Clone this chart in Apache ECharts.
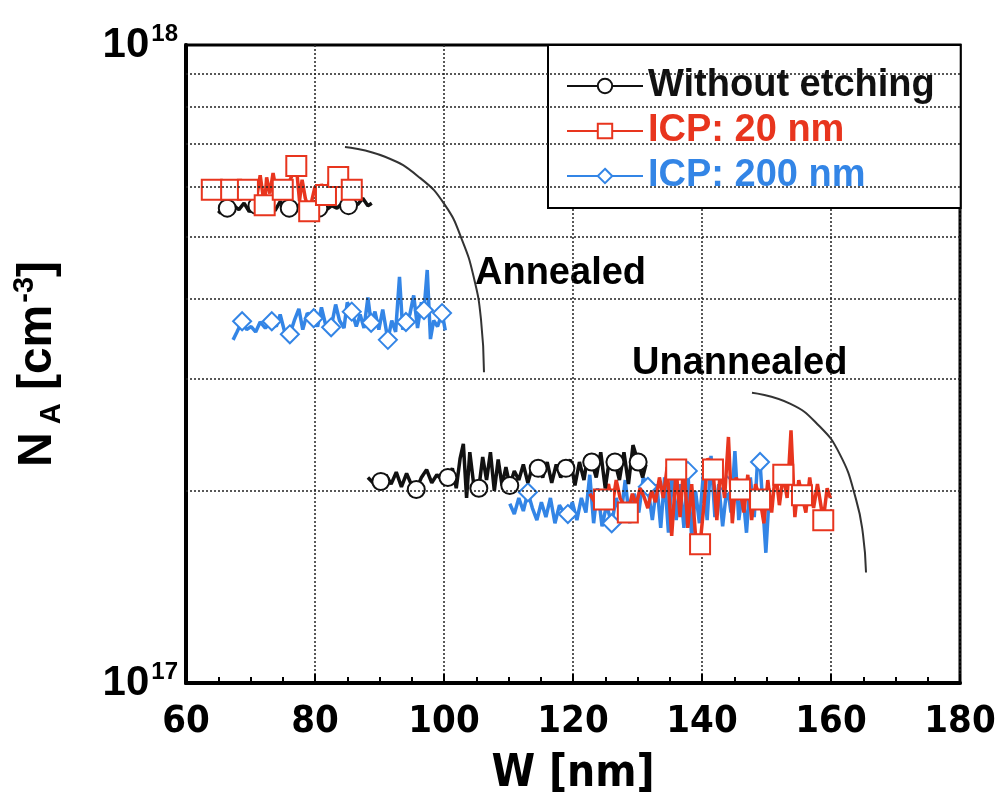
<!DOCTYPE html>
<html>
<head>
<meta charset="utf-8">
<script src="https://cdn.jsdelivr.net/npm/echarts@6/dist/echarts.min.js"></script>
<style>
  html, body { margin: 0; padding: 0; background: #fff; }
  #main { width: 996px; height: 794px; }
</style>
</head>
<body>
<div id="main"></div>
<script>
// values are [W in nm, N_A in units of 1e17 cm^-3]
var blackAnnealed = [[65.0,5.45],[65.8,5.55],[66.6,5.50],[67.4,5.60],[68.2,5.52],[69.0,5.65],[69.8,5.48],[70.6,5.58],[71.4,5.70],[72.2,5.55],[73.0,5.62],[73.8,5.50],[74.6,5.68],[75.4,5.58],[76.2,5.72],[77.0,5.55],[77.8,5.65],[78.6,5.50],[79.4,5.62],[80.2,5.56],[81.0,5.68],[81.8,5.52],[82.6,5.60],[83.4,5.55],[84.2,5.65],[85.0,5.58],[85.8,5.70],[86.6,5.62],[87.4,5.75],[88.2,5.60],[88.8,5.65]]
var blackAnnealedMarks = [[66.4,5.55],[71.0,5.6],[76.0,5.55],[80.6,5.55],[85.2,5.6]]
var blackUnannealed = [[88.2,2.10],[89.0,2.06],[91.0,2.12],[91.8,2.05],[92.6,2.14],[93.4,2.03],[94.2,2.13],[95.0,2.04],[96.5,2.10],[97.3,2.16],[98.1,2.06],[98.9,2.12],[99.7,2.08],[101.3,2.17],[101.9,2.02],[102.5,2.25],[103.0,2.37],[103.5,1.95],[104.0,2.30],[104.6,2.05],[106.0,2.26],[106.6,2.08],[107.2,2.30],[107.8,2.00],[108.4,2.24],[109.0,2.04],[109.6,2.18],[110.9,2.15],[111.6,2.08],[112.3,2.20],[113.0,2.06],[113.7,2.18],[115.3,2.10],[116.0,2.22],[116.7,2.06],[117.4,2.20],[118.1,2.10],[119.6,2.24],[120.3,2.04],[121.0,2.22],[121.7,2.08],[122.3,2.28],[123.6,2.10],[124.3,2.30],[125.0,2.02],[125.7,2.26],[127.2,2.08],[127.9,2.30],[128.6,2.05],[129.3,2.36],[130.8,2.10],[131.3,2.20]]
var blackUnannealedMarks = [[90.2,2.07],[95.7,2.01],[100.6,2.10],[105.4,2.02],[110.2,2.04],[114.6,2.17],[118.9,2.17],[122.9,2.22],[126.5,2.22],[130.1,2.22]]

var redAnnealed = [[63.2,5.9],[64.5,6.0],[65.5,5.85],[66.5,6.05],[67.5,5.9],[68.5,6.0],[69.5,5.95],[70.5,6.1],[71.0,5.8],[71.5,6.25],[72.0,5.75],[72.5,6.2],[73.0,5.85],[73.5,6.3],[74.0,5.9],[74.5,6.1],[75.5,5.95],[76.3,6.2],[77.6,5.7],[78.0,6.15],[78.5,5.75],[79.5,5.7],[80.0,6.0],[80.5,5.75],[81.0,6.05],[82.2,6.1],[83.0,5.9],[84.2,6.15],[85.0,5.95],[86.2,6.05],[86.8,5.95]]
var redAnnealedMarks = [[64.0,5.93],[67.0,5.93],[69.6,5.93],[72.2,5.61],[75.0,5.93],[77.1,6.46],[79.1,5.49],[81.7,5.82],[83.6,6.21],[85.7,5.93]]
var redUnannealed = [[122.6,1.98],[123.4,1.92],[125.5,2.05],[126.1,1.90],[126.7,2.08],[127.3,1.95],[129.2,1.98],[129.8,1.90],[130.4,2.02],[131.0,1.96],[131.6,1.88],[132.2,2.00],[132.8,1.92],[133.4,2.10],[134.0,1.95],[134.6,2.18],[135.3,1.70],[136.6,1.82],[137.2,2.22],[137.8,1.75],[138.4,2.05],[139.0,1.70],[140.3,1.90],[140.9,2.25],[142.3,1.80],[142.9,2.20],[143.5,1.95],[144.1,2.43],[144.7,1.78],[145.3,2.10],[146.5,1.85],[147.1,2.12],[147.7,1.80],[148.3,2.05],[149.6,1.78],[150.2,2.08],[150.8,1.85],[151.4,2.15],[152.0,1.90],[153.2,1.95],[153.8,2.49],[154.4,1.82],[155.0,2.08],[156.1,1.85],[156.7,2.10],[157.3,1.88],[157.9,2.05],[159.4,2.02],[159.9,1.95]]
var redUnannealedMarks = [[124.8,1.94],[128.5,1.85],[136.0,2.16],[139.7,1.65],[141.7,2.16],[145.9,2.01],[149.0,1.94],[152.6,2.12],[155.5,1.97],[158.8,1.80]]

var blueAnnealed = [[67.3,3.45],[67.9,3.55],[69.4,3.58],[70.1,3.62],[70.8,3.55],[71.5,3.68],[72.3,3.60],[74.0,3.62],[74.6,3.78],[75.3,3.55],[76.8,3.70],[77.5,3.86],[78.1,3.58],[78.8,3.80],[80.4,3.62],[81.0,3.88],[81.6,3.66],[83.2,3.92],[83.8,3.70],[84.5,3.60],[85.0,3.95],[86.4,3.62],[87.0,3.78],[87.6,3.60],[88.2,4.02],[89.3,3.82],[89.9,3.58],[90.5,3.85],[91.9,3.70],[92.5,3.55],[93.1,4.33],[93.6,3.58],[94.7,3.78],[95.3,4.05],[95.9,3.60],[96.5,3.95],[97.4,4.44],[97.9,3.46],[98.4,3.70],[99.0,3.62],[100.2,3.57]]
var blueAnnealedMarks = [[68.7,3.69],[73.3,3.69],[76.1,3.52],[79.8,3.73],[82.5,3.61],[85.7,3.82],[88.7,3.67],[91.3,3.45],[94.1,3.68],[96.9,3.84],[99.7,3.80]]
var blueUnannealed = [[110.2,1.91],[110.9,1.84],[111.6,1.95],[112.3,1.86],[113.7,1.88],[114.4,1.80],[115.1,1.92],[115.8,1.82],[116.5,1.95],[117.2,1.78],[117.9,1.90],[118.6,1.85],[119.9,1.92],[120.6,1.80],[121.3,1.95],[122.0,1.85],[122.6,2.12],[123.2,1.78],[123.8,2.02],[124.5,1.76],[125.2,1.90],[126.7,1.95],[127.4,1.82],[128.1,2.08],[128.8,1.78],[129.5,1.98],[130.2,1.85],[130.9,2.10],[132.3,1.80],[133.0,2.05],[133.6,1.75],[134.2,2.10],[134.8,1.72],[135.4,2.15],[136.0,1.80],[136.6,2.05],[137.2,1.75],[138.4,1.69],[139.0,2.00],[139.6,1.78],[140.2,2.12],[140.8,1.80],[141.4,2.27],[142.0,1.82],[142.6,2.05],[143.2,1.76],[144.5,1.85],[145.1,2.31],[145.7,1.80],[146.3,2.00],[146.9,1.72],[147.5,2.10],[148.1,1.82],[148.6,2.22],[149.5,1.85],[149.9,1.60],[150.4,1.95]]
var blueUnannealedMarks = [[113.0,1.99],[119.2,1.84],[126.0,1.78],[131.6,2.03],[137.8,2.15],[143.9,2.04],[149.0,2.22]]

// guide curves drawn next to the two groups
var annealedArc = [[84.65,6.92],[90.85,6.68],[96.28,6.19],[100.16,5.61],[102.79,4.95],[104.65,4.31],[105.74,3.71],[106.2,3.07]]
var unannealedArc = [[147.75,2.85],[153.64,2.74],[157.98,2.54],[161.4,2.28],[163.88,1.94],[164.96,1.71],[165.43,1.49]]

var gridLevels = [2, 3, 4, 5, 6, 7, 8, 9]
var names = ['Without etching', 'ICP: 20 nm', 'ICP: 200 nm']
var black = '#111111', red = '#e8351e', blue = '#3385e6'
var font = 'Liberation Sans'
var narrow = "'DejaVu Sans Condensed', 'Liberation Sans'"

function build(line, marks) {
    var pts = []
    line.forEach(function (p) { pts.push({ value: [p[0], p[1] * 1e17], symbol: 'none' }) })
    marks.forEach(function (p) { pts.push({ value: [p[0], p[1] * 1e17] }) })
    pts.sort(function (a, b) { return a.value[0] - b.value[0] })
    return pts
}
function scaled(arr) {
    return arr.map(function (p) { return [p[0], p[1] * 1e17] })
}

function dataSeries(name, color, symbol, size, bw, data, z) {
    return {
        name: name,
        type: 'line',
        data: data,
        z: z,
        symbol: symbol,
        symbolSize: size,
        showAllSymbol: true,
        lineStyle: { color: color, width: 3.5 },
        itemStyle: { color: color, borderColor: color, borderWidth: bw },
        emphasis: { disabled: true },
        animation: false
    }
}

function arcSeries(arr) {
    return {
        type: 'line',
        data: scaled(arr),
        smooth: true,
        symbol: 'none',
        silent: true,
        z: 1,
        lineStyle: { color: '#333', width: 2 }
    }
}

var myChart = echarts.init(document.getElementById('main'))
var option = {
    animation: false,
    backgroundColor: '#fff',
    grid: {
        left: 186, right: 36, top: 45, bottom: 111,
        outerBoundsMode: 'none',
        show: true, borderColor: '#000', borderWidth: 3
    },
    legend: {
        orient: 'vertical',
        left: 548, top: 45,
        padding: [22, 26, 13, 18],
        itemWidth: 76, itemHeight: 18, itemGap: 7,
        backgroundColor: '#fff',
        borderColor: '#000', borderWidth: 2,
        textStyle: { fontFamily: font, fontWeight: 'bold', fontSize: 38 },
        data: [
            { name: names[0], textStyle: { color: black } },
            { name: names[1], textStyle: { color: red } },
            { name: names[2], textStyle: { color: blue } }
        ]
    },
    xAxis: {
        type: 'value',
        min: 60, max: 180, interval: 20,
        name: 'W [nm]',
        nameLocation: 'middle',
        nameGap: 70,
        nameTextStyle: { fontFamily: narrow, fontWeight: 'bold', fontSize: 44, color: '#000' },
        axisLine: { lineStyle: { color: '#000', width: 4 } },
        axisTick: { inside: true, length: 9, lineStyle: { color: '#000', width: 2 } },
        minorTick: { show: true, splitNumber: 4, length: 6, lineStyle: { color: '#000', width: 2 } },
        splitLine: { show: true, lineStyle: { color: '#222', type: [2, 2], width: 1.5 } },
        axisLabel: { fontFamily: narrow, fontWeight: 'bold', fontSize: 38, color: '#000', margin: 20 }
    },
    yAxis: {
        type: 'log',
        logBase: 10,
        min: 1e17, max: 1e18,
        name: 'N{sub|A} [cm{sup|-3}]',
        nameLocation: 'middle',
        nameGap: 120,
        nameTextStyle: {
            fontFamily: font, fontWeight: 'bold', fontSize: 48, color: '#000',
            rich: {
                sub: { fontFamily: font, fontWeight: 'bold', fontSize: 29, padding: [27, 0, 0, 8] },
                sup: { fontFamily: font, fontWeight: 'bold', fontSize: 29, padding: [0, 0, 27, 2] }
            }
        },
        axisLine: { lineStyle: { color: '#000', width: 4 } },
        axisTick: { show: false },
        splitLine: { show: false },
        axisLabel: {
            margin: 8,
            color: '#000',
            formatter: function (v) {
                return '{b|10}{s|' + Math.round(Math.log10(v)) + '}'
            },
            rich: {
                b: { fontFamily: font, fontWeight: 'bold', fontSize: 42 },
                s: { fontFamily: font, fontWeight: 'bold', fontSize: 24, padding: [0, 0, 22, 2] }
            }
        }
    },
    graphic: [
        { type: 'text', left: 475, top: 255, style: { text: 'Annealed', fontFamily: font, fontWeight: 'bold', fontSize: 38, fill: '#000' } },
        { type: 'text', left: 632, top: 345, style: { text: 'Unannealed', fontFamily: font, fontWeight: 'bold', fontSize: 38, fill: '#000' } }
    ],
    series: [
        {
            type: 'line',
            data: [],
            silent: true,
            markLine: {
                silent: true,
                symbol: 'none',
                label: { show: false },
                lineStyle: { color: '#222', type: [2, 2], width: 1.5 },
                data: gridLevels.map(function (v) { return { yAxis: v * 1e17 } })
            }
        },
        dataSeries(names[0], black, 'emptyCircle', 17, 2.5, build(blackAnnealed, blackAnnealedMarks), 2),
        dataSeries(names[1], red, 'emptyRect', 20, 1.5, build(redAnnealed, redAnnealedMarks), 3),
        dataSeries(names[2], blue, 'emptyDiamond', 18, 1.5, build(blueAnnealed, blueAnnealedMarks), 2),
        dataSeries(names[2], blue, 'emptyDiamond', 18, 1.5, build(blueUnannealed, blueUnannealedMarks), 2),
        dataSeries(names[1], red, 'emptyRect', 20, 1.5, build(redUnannealed, redUnannealedMarks), 3),
        dataSeries(names[0], black, 'emptyCircle', 17, 2.5, build(blackUnannealed, blackUnannealedMarks), 4),
        arcSeries(annealedArc),
        arcSeries(unannealedArc)
    ]
}
myChart.setOption(option)
</script>
</body>
</html>
